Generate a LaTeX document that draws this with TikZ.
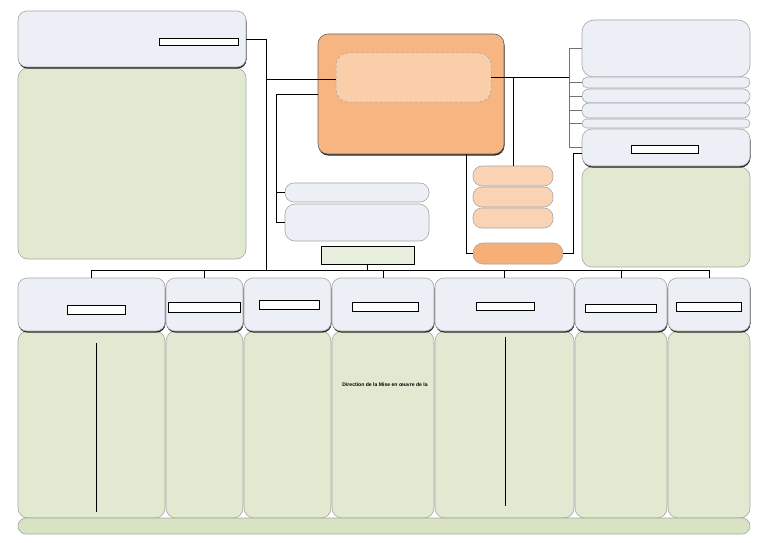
\documentclass[tikz,border=0pt]{standalone}
\usepackage{fontspec}
\setsansfont{Liberation Sans}
\usetikzlibrary{shadows}
\definecolor{hdr}{HTML}{ECEFF5}
\definecolor{grn}{HTML}{E1EAD0}
\definecolor{grnbar}{HTML}{D7E3C3}
\definecolor{org}{HTML}{F7B581}
\definecolor{orgin}{HTML}{F9CEA8}
\definecolor{orgl}{HTML}{FAD3B4}
\definecolor{orgb}{HTML}{F7AF78}
\definecolor{bord}{HTML}{A6A6A6}
\newcommand\bx[6]{\node[#6,anchor=north west,inner sep=0pt,outer sep=0pt,minimum width={(#4-#2)*1pt},minimum height={(#5-#3)*1pt}] (#1) at (#2,#3) {};}
\tikzset{
  hbox/.style={rectangle, rounded corners=9pt, draw=bord, fill=hdr, line width=0.6pt},
  shd/.style={drop shadow={shadow xshift=0.5pt, shadow yshift=-1.6pt, fill=black!85, opacity=1}},
  wbox/.style={rectangle, draw=black, fill=white, line width=0.6pt},
  gbox/.style={rectangle, rounded corners=10pt, draw=bord, fill=grn, line width=0.6pt},
  obox/.style={rectangle, rounded corners=10pt, draw=black!60, fill=org, line width=0.6pt},
  opill/.style={rectangle, rounded corners=9pt, draw=black!35, fill=orgl, line width=0.6pt},
  conn/.style={draw=black, line width=0.8pt},
  gconn/.style={draw=black!55, line width=0.6pt},
}
\begin{document}
\begin{tikzpicture}[x=1pt,y=-1pt]
\useasboundingbox[fill=white] (0,0) rectangle (768,543);
% top-left
\bx{tlg}{18}{68}{246}{259}{gbox}
\bx{tlh}{18}{11}{246}{67}{hbox,shd}
\bx{tlw}{159}{38}{238}{45}{wbox}
% orange centre
\bx{orange}{318}{34}{504}{154}{obox,shd}
\bx{inner}{336}{53}{491}{102}{rectangle,rounded corners=12pt,draw=black!35,densely dashed,fill=orgin,line width=0.5pt}
% left light boxes
\bx{lb1}{285}{183}{429}{202}{hbox,rounded corners=9pt}
\bx{lb2}{285}{204}{429}{241}{hbox,rounded corners=10pt}
\bx{gr}{321}{246}{414}{264}{rectangle,draw=black,fill=grn!75!white,line width=0.6pt}
% small orange pills
\bx{sp1}{473}{166}{553}{186}{opill}
\bx{sp2}{473}{187}{553}{207}{opill}
\bx{sp3}{473}{208}{553}{228}{opill}
\bx{bp}{473}{243}{563}{264}{opill,fill=orgb,rounded corners=10pt}
% right column
\bx{rg}{582}{167}{750}{267}{gbox}
\bx{rt}{582}{20}{750}{77}{hbox,rounded corners=12pt}
\bx{rp1}{582}{77}{750}{88}{hbox,rounded corners=5.5pt}
\bx{rp2}{582}{89}{750}{103}{hbox,rounded corners=7pt}
\bx{rp3}{582}{103}{750}{118}{hbox,rounded corners=7pt}
\bx{rp4}{582}{119}{750}{128}{hbox,rounded corners=4.5pt}
\bx{rl}{582}{129}{750}{166}{hbox,shd,rounded corners=10pt}
\bx{rlw}{631}{145}{698}{153}{wbox}
% bottom columns
\bx{c1}{18}{331}{165}{518}{gbox}
\bx{c2}{166}{331}{243}{518}{gbox}
\bx{c3}{244}{331}{331}{518}{gbox}
\bx{c4}{332}{331}{434}{518}{gbox}
\bx{c5}{435}{331}{574}{518}{gbox}
\bx{c6}{575}{331}{667}{518}{gbox}
\bx{c7}{668}{331}{750}{518}{gbox}
\bx{bar}{18}{518}{750}{534}{gbox,fill=grnbar,rounded corners=8pt}
% bottom headers
\bx{h1}{18}{278}{165}{331}{hbox,shd}
\bx{h2}{166}{278}{243}{331}{hbox,shd}
\bx{h3}{244}{278}{331}{331}{hbox,shd}
\bx{h4}{332}{278}{434}{331}{hbox,shd}
\bx{h5}{435}{278}{574}{331}{hbox,shd}
\bx{h6}{575}{278}{667}{331}{hbox,shd}
\bx{h7}{668}{278}{750}{331}{hbox,shd}
\bx{h1w}{67}{305}{125}{314}{wbox}
\bx{h2w}{168}{302}{240}{312}{wbox}
\bx{h3w}{259}{300}{319}{309}{wbox}
\bx{h4w}{352}{302}{418}{311}{wbox}
\bx{h5w}{476}{302}{534}{310}{wbox}
\bx{h6w}{585}{304}{656}{312}{wbox}
\bx{h7w}{676}{302}{741}{311}{wbox}
% text
\node[font=\sffamily\bfseries\fontsize{5.1}{6}\selectfont, inner sep=0pt] (txt) at (385,385) {Direction de la Mise en œuvre de la};
% lines inside columns
\coordinate (v1a) at (96,343); \coordinate (v1b) at (96,512);
\coordinate (v5a) at (505,337); \coordinate (v5b) at (505,506);
\draw[conn] (v1a) -- (v1b);
\draw[conn] (v5a) -- (v5b);
% connectors
\coordinate (bus) at (266,270);
\coordinate (j79) at (266,79);
\draw[conn] (tlh.east) -| (bus);
\draw[conn] (j79) -- (j79 -| inner.west);
\coordinate (l276) at (276,94);
\draw[conn] (orange.west) -- (l276) |- (lb2.west);
\draw[conn] (l276 |- lb1.west) -- (lb1.west);
\coordinate (rb) at (569,80);
\draw[conn] (inner.east) -- (inner.east -| rb);
\draw[conn] (inner.east -| sp1.north) -- (sp1.north);
\draw[gconn] (rb |- rt.west) -- (rb |- rl.west);
\foreach \n in {rt,rp1,rp2,rp3,rp4,rl} \draw[gconn] (rb |- \n.west) -- (\n.west);
\coordinate (oj) at (466,154);
\draw[conn] (oj) |- (bp.west);
\coordinate (rj) at (573,153);
\draw[conn] (bp.east) -| (rj) -- (rj -| rl.west);
\draw[conn] (gr.south) -- (gr.south |- bus);
\draw[conn] (h1.north) -- (h1.north |- bus) -- (h7.north |- bus) -- (h7.north);
\foreach \n in {h2,h4,h5,h6} \draw[conn] (\n.north |- bus) -- (\n.north);
\end{tikzpicture}
\end{document}
